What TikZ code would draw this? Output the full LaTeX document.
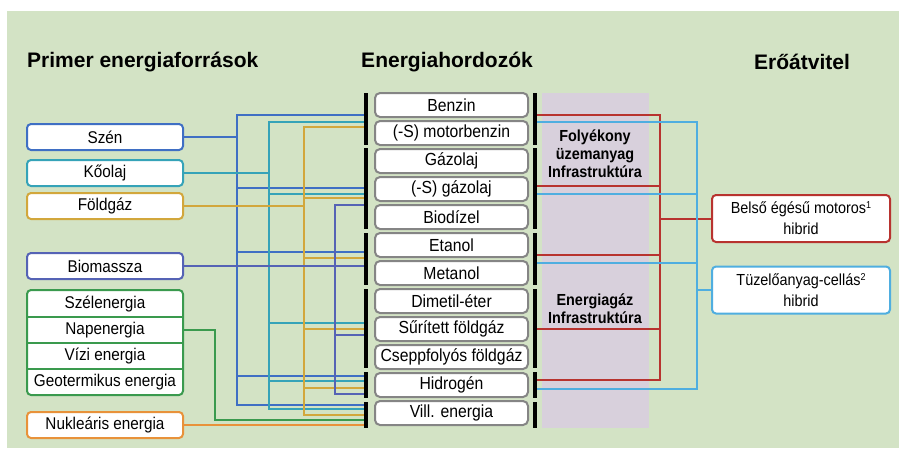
\documentclass[tikz,border=0pt]{standalone}
\usepackage{fontspec}
\setmainfont{Liberation Sans}
\newfontfamily\narrowfont{Liberation Sans}[FakeStretch=0.9]
\definecolor{bg}{HTML}{D3E3C5}
\definecolor{lilac}{HTML}{D8D0DC}
\definecolor{cSzen}{HTML}{3F6FC4}
\definecolor{cKo}{HTML}{35A3B8}
\definecolor{cFold}{HTML}{D2A73C}
\definecolor{cBio}{HTML}{5563B5}
\definecolor{cGreen}{HTML}{3A9A4E}
\definecolor{cNuk}{HTML}{E8923A}
\definecolor{cRed}{HTML}{B8332F}
\definecolor{cLb}{HTML}{4FAEE0}
\definecolor{mgray}{HTML}{858585}
\newcommand{\mysup}[1]{\raisebox{5pt}{\fontsize{10}{10}\selectfont #1}}
\begin{document}
\begin{tikzpicture}[x=1pt,y=-1pt,
  head/.style={font=\fontsize{21}{25}\selectfont\bfseries, inner sep=0pt},
  lbox/.style={draw, line width=2pt, rounded corners=4pt, fill=white, minimum width=156, minimum height=26, inner sep=0pt, font=\narrowfont\fontsize{17}{20}\selectfont},
  rowtext/.style={minimum width=156, minimum height=26, inner sep=0pt, font=\narrowfont\fontsize{17}{20}\selectfont},
  mbox/.style={draw=mgray, line width=2pt, rounded corners=5pt, fill=white, minimum width=153, minimum height=24, inner sep=0pt, font=\narrowfont\fontsize{17.5}{20}\selectfont},
  rbox/.style={draw, line width=2pt, rounded corners=4pt, fill=white, minimum width=178, minimum height=47, inner sep=0pt, align=center, font=\narrowfont\fontsize{16}{21}\selectfont},
  infra/.style={align=center, inner sep=0pt, font=\narrowfont\fontsize{16}{18}\selectfont\bfseries},
  conn/.style={line width=2pt},
  bar/.style={line width=4.5pt, black}
]
\useasboundingbox (0,0) rectangle (899,448);
\fill[bg] (7,11) rectangle (899,448);
\fill[lilac] (542,93) rectangle (649,428);

% headings
\node[head, anchor=west] (h1) at (27,62) {Primer energiaforrások};
\node[head] (h2) at (447,62) {Energiahordozók};
\node[head] (h3) at (802,62) {Erőátvitel};

% left boxes
\node[lbox, draw=cSzen] (szen) at (105,137) {Szén};
\node[lbox, draw=cKo] (koolaj) at (105,173) {Kőolaj};
\node[lbox, draw=cFold] (foldgaz) at (105,206) {Földgáz};
\node[lbox, draw=cBio] (bio) at (105,266) {Biomassza};
\node[lbox, draw=cGreen, minimum height=105] (green) at (105,342.5) {};
\node[rowtext] (szel) at (105,304) {Szélenergia};
\node[rowtext] (nap) at (105,330) {Napenergia};
\node[rowtext] (vizi) at (105,356) {Vízi energia};
\node[rowtext] (geo) at (105,382) {Geotermikus energia};
\draw[cGreen, line width=2pt] (szel.south west) -- (szel.south east);
\draw[cGreen, line width=2pt] (nap.south west) -- (nap.south east);
\draw[cGreen, line width=2pt] (vizi.south west) -- (vizi.south east);
\node[lbox, draw=cNuk] (nuk) at (105,425) {Nukleáris energia};

% middle boxes
\node[mbox] (m1) at (451.5,105) {Benzin};
\node[mbox] (m2) at (451.5,133) {(-S) motorbenzin};
\node[mbox] (m3) at (451.5,161) {Gázolaj};
\node[mbox] (m4) at (451.5,189) {(-S) gázolaj};
\node[mbox] (m5) at (451.5,217) {Biodízel};
\node[mbox] (m6) at (451.5,245) {Etanol};
\node[mbox] (m7) at (451.5,273) {Metanol};
\node[mbox] (m8) at (451.5,301) {Dimetil-éter};
\node[mbox] (m9) at (451.5,329) {Sűrített földgáz};
\node[mbox] (m10) at (451.5,357) {Cseppfolyós földgáz};
\node[mbox] (m11) at (451.5,385) {Hidrogén};
\node[mbox] (m12) at (451.5,413) {Vill. energia};

% infrastructure labels
\node[infra] (inf1) at (595,154) {Folyékony\\üzemanyag\\Infrastruktúra};
\node[infra] (inf2) at (595,309) {Energiagáz\\Infrastruktúra};

% right boxes
\node[rbox, draw=cRed] (belso) at (801,218.5) {Belső égésű motoros\mysup{1}\\hibrid};
\node[rbox, draw=cLb] (tuz) at (801,290) {Tüzelőanyag-cellás\mysup{2}\\hibrid};

% left connectors: Szén
\draw[conn, cSzen] (szen.east) -- (237,137);
\draw[conn, cSzen] (366,115) -- (237,115) -- (237,405) -- (366,405);
\foreach \y in {188,252,376} \draw[conn, cSzen] (237,\y) -- (366,\y);
% Kőolaj
\draw[conn, cKo] (koolaj.east) -- (269,173);
\draw[conn, cKo] (366,122) -- (269,122) -- (269,409) -- (366,409);
\foreach \y in {194,323,381} \draw[conn, cKo] (269,\y) -- (366,\y);
% Földgáz
\draw[conn, cFold] (foldgaz.east) -- (304,206);
\draw[conn, cFold] (366,127) -- (304,127) -- (304,415) -- (366,415);
\foreach \y in {198,258,329,388} \draw[conn, cFold] (304,\y) -- (366,\y);
% Biomassza
\draw[conn, cBio] (bio.east) -- (366,266);
\draw[conn, cBio] (366,205) -- (335,205) -- (335,394) -- (366,394);
\draw[conn, cBio] (335,335) -- (366,335);
% Napenergia
\draw[conn, cGreen] (nap.east) -- (215,330) -- (215,420) -- (366,420);
% Nukleáris
\draw[conn, cNuk] (nuk.east) -- (366,425);

% right connectors: red
\draw[conn, cRed] (537,115) -- (660,115) -- (660,380) -- (537,380);
\foreach \y in {186,255,329} \draw[conn, cRed] (537,\y) -- (660,\y);
\draw[conn, cRed] (660,218.5) -- (belso.west);
% right connectors: light blue
\draw[conn, cLb] (537,122) -- (697,122) -- (697,389) -- (537,389);
\foreach \y in {194,263} \draw[conn, cLb] (537,\y) -- (697,\y);
\draw[conn, cLb] (697,290) -- (tuz.west);

% black bars
\foreach \a/\b in {93/145,148/229,233/285,289/368,372/398,402/428} {
  \draw[bar] (366,\a) -- (366,\b);
  \draw[bar] (535,\a) -- (535,\b);
}
\end{tikzpicture}
\end{document}
